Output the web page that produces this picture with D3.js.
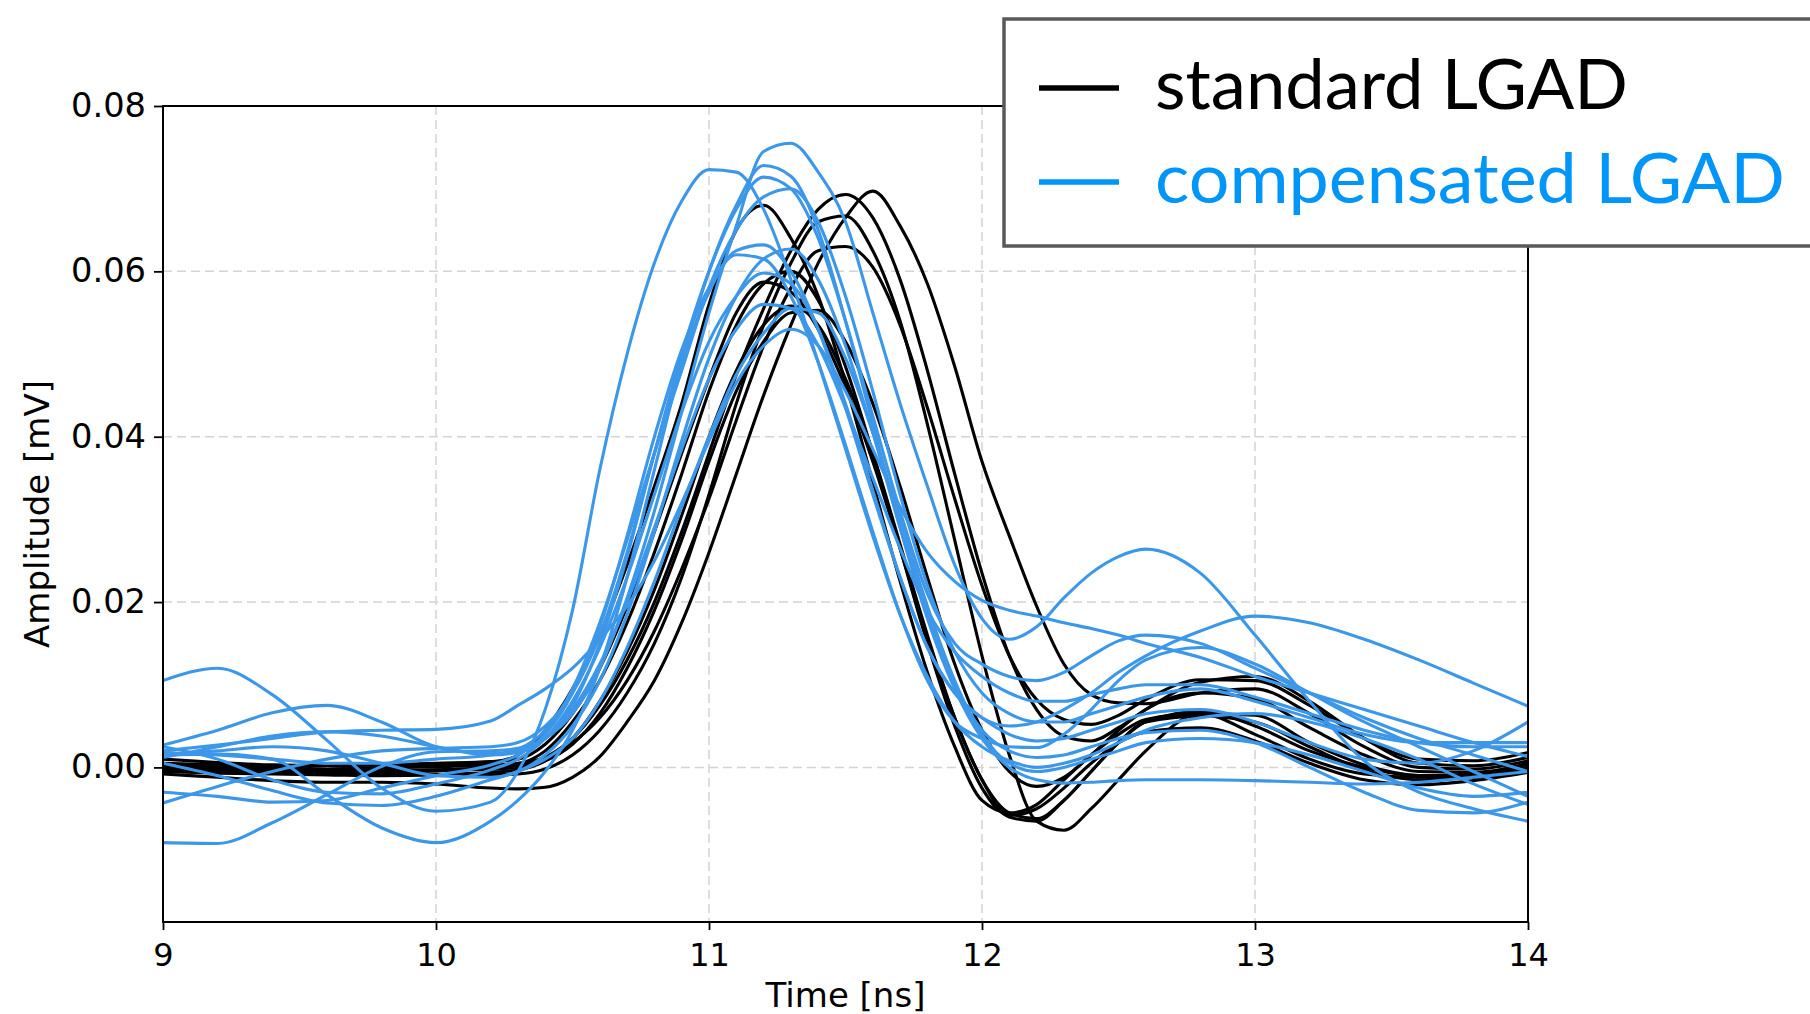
<!DOCTYPE html>
<html>
<head>
<meta charset="utf-8">
<script src="https://cdn.jsdelivr.net/npm/d3@7"></script>
<style>
  html, body { margin: 0; padding: 0; background: #fff; }
  svg { display: block; }
</style>
</head>
<body>
<svg id="chart" width="1810" height="1014"></svg>
<script>
// sample times (ns)
const timeNs = [9.0, 9.2, 9.4, 9.6, 9.8, 10.0, 10.2,
  10.3, 10.4, 10.5, 10.6, 10.7, 10.8, 10.9, 11.0, 11.1, 11.2, 11.3, 11.4, 11.5, 11.6, 11.7, 11.8,
  11.9, 12.0, 12.1, 12.2, 12.3, 12.4, 12.5, 12.6,
  12.8, 13.0, 13.2, 13.4, 13.6, 13.8, 14.0];

// amplitudes, in units of 1e-3
const standardLGAD = [
  [0.5, 0.3, 0.0, -0.2, 0.0, 0.3, 0.6,
   1.5, 4.5, 9.5, 16, 24.5, 34, 44, 56, 65, 68, 64, 57, 46.5, 34.5, 22.5, 11.5, 2.5, -4, -5.5, -4.5, -1.5, 1.5, 4, 5.8,
   6.5, 4, 1, -0.8, -1.2, -0.8, 0],
  [-0.3, -0.5, -0.6, -0.5, -0.4, -0.3, -0.2,
   0.2, 1.2, 3.5, 7.5, 13, 20, 28.5, 38, 47.5, 55.5, 62.5, 67.5, 69.3, 66.5, 59, 48, 35.5, 23.5, 13.5, 7, 3.8, 3.2, 4.8, 7,
   10.3, 11, 8, 3.5, 0.5, 0.2, 1.2],
  [-0.8, -1.2, -1.6, -1.8, -1.8, -2.0, -2.5,
   -2.6, -2.4, -1.2, 1.3, 5.5, 10.5, 17.5, 26, 35.5, 45, 53.5, 61, 66.5, 69.7, 65.5, 58.5, 48.5, 37, 28, 19.5, 12.5, 8.8, 7.8, 7.7,
   9, 9.5, 6.5, 2.5, 0, -0.2, 0.8],
  [0.2, 0.0, -0.3, -0.5, -0.6, -0.8, -0.9,
   -0.8, -0.2, 1.5, 4.5, 9, 15, 23, 33, 44, 53.5, 61, 66, 66.7, 62.5, 54, 41.5, 27.5, 13.5, 1.5, -6.5, -7.6, -5, -1.5, 2,
   6.5, 6.3, 3, 0.3, -1, -1.2, -0.3],
  [0.0, -0.2, -0.4, -0.3, -0.1, 0.1, 0.3,
   0.5, 1.2, 3, 6, 10.5, 16.5, 24, 32.5, 42, 51, 58, 62.5, 63, 60.5, 53.5, 43.5, 32.5, 22, 13.5, 8.2, 5.8, 5.2, 6.3, 8.2,
   10.6, 10.5, 7.5, 3.5, 1, 0.8, 1.8],
  [1.0, 0.6, 0.3, 0.2, 0.3, 0.5, 0.7,
   1.0, 2.8, 6.5, 12, 19.5, 28.5, 38, 47, 55, 58.7, 57.5, 53, 46, 37, 26.5, 15.5, 6, -1.5, -5.5, -6.2, -4, -0.5, 3, 5.5,
   6.8, 5, 2, 0, -1, -0.8, 0.5],
  [-0.5, -0.7, -0.8, -0.9, -1.0, -0.9, -0.6,
   -0.3, 0.8, 3.5, 8, 14, 21.5, 30.5, 40, 48, 53.5, 55.8, 53.5, 47, 38, 27, 16, 6, -1.5, -6, -6.5, -4, -0.5, 3, 5.5,
   6.2, 5.5, 2.5, -0.3, -1.5, -1.2, -0.2],
  [0.3, 0.1, -0.2, -0.4, -0.5, -0.4, -0.2,
   0.0, 0.8, 2.8, 6.5, 12, 19, 27.5, 37, 45.5, 51.5, 55, 55.3, 51.5, 44, 34, 23, 12.5, 4.5, -0.5, -2.3, -1.2, 1.5, 4.5, 7,
   9, 8.3, 4.8, 1.5, -0.5, -0.6, 0.4],
  [-0.2, -0.4, -0.6, -0.7, -0.6, -0.3, 0.0,
   0.4, 2.0, 5.5, 10.5, 17.5, 26, 35.5, 45.5, 53.5, 58.5, 60, 56.5, 48.5, 38, 26.5, 15, 5, -2.5, -5.8, -5, -2.5, 0.5, 3, 4.3,
   4.8, 3.2, 0.5, -1.5, -2.1, -1.6, -0.6]
];

const compensatedLGAD = [
  [10.5, 12.0, 8.8, 3.3, -2.5, -5.3, -4.2,
   -0.5, 7, 19, 36, 50, 61, 68.5, 72.3, 72, 67.5, 59, 49, 38.5, 28, 18.5, 11, 5.5, 2.5, 0.8, 0, 0.5, 1.5, 3, 4.5,
   6, 6.5, 5.5, 3.5, 1, -2, -4.5],
  [-9.1, -9.2, -6.7, -3.3, 0.1, 1.9, 2.0,
   2.3, 3.5, 6.5, 12, 20.5, 31, 43, 55, 65.5, 74.5, 75.5, 72, 66, 55, 44, 34, 24.5, 18, 15.5, 17, 20.5, 23.5, 25.5, 26.4,
   23.5, 16, 8, 0.8, -3, -5, -6.5],
  [1.5, 1.6, 1.0, -3.3, -7.3, -9.1, -6.5,
   -4.0, -0.5, 4.5, 12, 23, 36, 49, 60, 68, 72.8, 71.5, 65, 54, 41.5, 29, 18, 9.5, 3.5, 0, -1.5, -1.9, -1.8, -1.6, -1.5,
   -1.5, -1.6, -1.8, -2, -1.8, -1.2, -0.5],
  [2.7, 4.5, 6.6, 7.5, 5.5, 2.5, 1.7,
   2.0, 3.5, 7.5, 15, 25.5, 38, 50, 60, 67.5, 71.4, 70, 64, 54, 42.5, 31, 21, 15, 12.5, 11, 10.5, 11.5, 13.5, 15.3, 16,
   15, 12, 9, 6, 3.5, 1.5, -0.5],
  [-4.3, -2.3, -0.5, 1.0, 2.0, 2.3, 2.5,
   3.0, 5, 9, 16, 26, 38, 49, 57.5, 62.5, 63.2, 60, 53, 43.5, 33, 23, 14.5, 9, 6, 5, 5.5, 7, 9, 11.5, 13.5,
   16.5, 18.3, 17.5, 15.5, 13, 10.2, 7.4],
  [2.0, 2.7, 3.5, 4.3, 4.5, 4.6, 5.6,
   7.5, 9.5, 12, 15.5, 19.5, 25, 32, 39.5, 46.5, 51, 53, 51, 45.5, 38.5, 31.5, 26, 22.5, 20.2, 19, 18.3, 17.5, 16.8, 16, 15,
   13.3, 11, 9, 7, 5, 3, 1.3],
  [-3.0, -3.5, -4.2, -4.0, -2.5, -1.0, 0.3,
   1.5, 4, 9, 17, 28, 40, 50.5, 58, 62, 61.5, 57, 49, 39, 28.5, 18.5, 10.5, 5.5, 3.5, 2.5, 2.4, 4, 7, 10.5, 13,
   14.5, 12.5, 9, 5.5, 2.5, -0.5, -3.5],
  [1.5, 2.0, 2.5, 2.0, 0.5, -1.0, -1.2,
   -0.5, 1.5, 5, 10.5, 18.5, 28.5, 39.5, 49.5, 57, 61.5, 62.7, 59, 51, 40.5, 29, 18.5, 10, 4.5, 2, 1.2, 1.5, 2.5, 3.5, 4.2,
   4.5, 3, 0, -3, -5.2, -5.5, -4.2],
  [2.5, 1.0, -1.5, -3.0, -3.2, -2.0, -0.3,
   1, 3.5, 8, 14.5, 23, 33, 43, 51.5, 57, 59.8, 58.5, 53, 44, 33.5, 23, 14.5, 9, 6, 4, 3.2, 3.5, 4.5, 5.5, 6.5,
   7, 5.5, 3, 1, 0.5, 2, 5.5],
  [1.2, 2.5, 3.8, 4.3, 3.8, 2.5, 1.5,
   1.8, 3.5, 7, 12.5, 20, 29, 38.5, 47, 53, 56, 55.5, 51, 43.5, 35, 26.5, 19, 14, 11, 9, 8, 8, 8.8, 9.5, 10,
   10, 8.5, 6.5, 4.5, 3, 2.5, 2.5],
  [0.5, -1.0, -2.8, -4.3, -4.6, -3.5, -1.5,
   -0.5, 1, 3.5, 8, 14.5, 22.5, 31.5, 40, 47.5, 52.5, 55.5, 55, 49.5, 40.5, 30, 19.5, 10.5, 4, 0.5, -0.5, 0, 1, 2, 3,
   3.5, 3, 1.5, -0.5, -2.5, -3.5, -3],
  [1.8, 1.5, 1.0, 0.5, 0.5, 1.0, 1.5,
   2.2, 4.5, 9.5, 17.5, 27.5, 38, 48, 58, 65, 69, 70, 66, 57, 45.5, 33, 22, 14, 9, 6.5, 5.5, 5.5, 6.5, 7.5, 8.5,
   9.5, 8, 6, 4, 3, 3, 3]
];

const xTicks = [9, 10, 11, 12, 13, 14];
const yTicks = [0.00, 0.02, 0.04, 0.06, 0.08];
const legendLabels = ["standard LGAD", "compensated LGAD"];

const width = 1810, height = 1014;
const margin = {top: 106, right: 282, bottom: 92, left: 163};
const lineColors = ["#000000", "#3d97e9"];
const legendTextColors = ["#000000", "#0095f8"];

const svg = d3.select("#chart");

const x = d3.scaleLinear().domain([9, 14]).range([margin.left, width - margin.right]);
const y = d3.scaleLinear().domain([-0.0187, 0.08]).range([height - margin.bottom, margin.top]);

svg.append("rect").attr("width", width).attr("height", height).attr("fill", "#fff");

// grid
const grid = svg.append("g")
  .attr("stroke", "#d4d4d4")
  .attr("stroke-width", 1.5)
  .attr("stroke-dasharray", "9,5");
grid.selectAll("line.gx")
  .data(xTicks.slice(1, -1))
  .enter().append("line")
  .attr("class", "gx")
  .attr("x1", d => x(d)).attr("x2", d => x(d))
  .attr("y1", y.range()[1]).attr("y2", y.range()[0]);
grid.selectAll("line.gy")
  .data(yTicks.slice(0, -1))
  .enter().append("line")
  .attr("class", "gy")
  .attr("x1", x.range()[0]).attr("x2", x.range()[1])
  .attr("y1", d => y(d)).attr("y2", d => y(d));

svg.append("clipPath").attr("id", "plotClip")
  .append("rect")
  .attr("x", x.range()[0]).attr("y", y.range()[1])
  .attr("width", x.range()[1] - x.range()[0])
  .attr("height", y.range()[0] - y.range()[1]);

const line = d3.line()
  .x((d, i) => x(timeNs[i]))
  .y(d => y(d / 1000))
  .curve(d3.curveMonotoneX);

const traces = svg.append("g").attr("clip-path", "url(#plotClip)")
  .attr("fill", "none")
  .attr("stroke-width", 3.1)
  .attr("stroke-linejoin", "round");

traces.selectAll("path.std")
  .data(standardLGAD)
  .enter().append("path")
  .attr("class", "std")
  .attr("stroke", lineColors[0])
  .attr("d", line);

traces.selectAll("path.comp")
  .data(compensatedLGAD)
  .enter().append("path")
  .attr("class", "comp")
  .attr("stroke", lineColors[1])
  .attr("d", line);

// axes
const xAxis = svg.append("g")
  .attr("transform", `translate(0, ${y.range()[0]})`)
  .call(d3.axisBottom(x).tickValues(xTicks).tickSize(8).tickPadding(13).tickFormat(d3.format("d")));
const yAxis = svg.append("g")
  .attr("transform", `translate(${x.range()[0]}, 0)`)
  .call(d3.axisLeft(y).tickValues(yTicks).tickSize(9).tickPadding(8).tickFormat(d3.format(".2f")));

[xAxis, yAxis].forEach(ax => {
  ax.select(".domain").remove();
  ax.selectAll(".tick line").attr("stroke", "#000").attr("stroke-width", 1.8);
  ax.selectAll(".tick text")
    .attr("fill", "#000")
    .style("font-family", "'DejaVu Sans', sans-serif")
    .style("font-size", "32px");
});
// y labels in the reference are drawn a little wider
yAxis.selectAll(".tick text")
  .style("font-size", "33px")
  .attr("textLength", 75)
  .attr("lengthAdjust", "spacingAndGlyphs");

// frame
svg.append("rect")
  .attr("x", x.range()[0]).attr("y", y.range()[1])
  .attr("width", x.range()[1] - x.range()[0])
  .attr("height", y.range()[0] - y.range()[1])
  .attr("fill", "none")
  .attr("stroke", "#000")
  .attr("stroke-width", 2);

svg.append("text")
  .attr("x", (x.range()[0] + x.range()[1]) / 2)
  .attr("y", 1007)
  .attr("text-anchor", "middle")
  .style("font-family", "'DejaVu Sans', sans-serif")
  .style("font-size", "34px")
  .text("Time [ns]");

svg.append("text")
  .attr("transform", `translate(49, ${(y.range()[0] + y.range()[1]) / 2}) rotate(-90)`)
  .attr("text-anchor", "middle")
  .style("font-family", "'DejaVu Sans', sans-serif")
  .style("font-size", "34px")
  .text("Amplitude [mV]");

// legend
const legend = svg.append("g");
legend.append("rect")
  .attr("x", 1004).attr("y", 19)
  .attr("width", 900).attr("height", 227)
  .attr("fill", "#fff")
  .attr("stroke", "#595959")
  .attr("stroke-width", 3.5);

const legendRows = [{y: 88, w: 473}, {y: 182, w: 630}];
legendLabels.forEach((label, i) => {
  legend.append("line")
    .attr("x1", 1039).attr("x2", 1119)
    .attr("y1", legendRows[i].y).attr("y2", legendRows[i].y)
    .attr("stroke", legendTextColors[i])
    .attr("stroke-width", 5.5);
  legend.append("text")
    .attr("x", 1155)
    .attr("y", legendRows[i].y + 21)
    .attr("textLength", legendRows[i].w)
    .attr("lengthAdjust", "spacingAndGlyphs")
    .attr("fill", legendTextColors[i])
    .style("font-family", "Lato, 'Open Sans', sans-serif")
    .style("font-size", "70px")
    .text(label);
});
</script>
</body>
</html>
